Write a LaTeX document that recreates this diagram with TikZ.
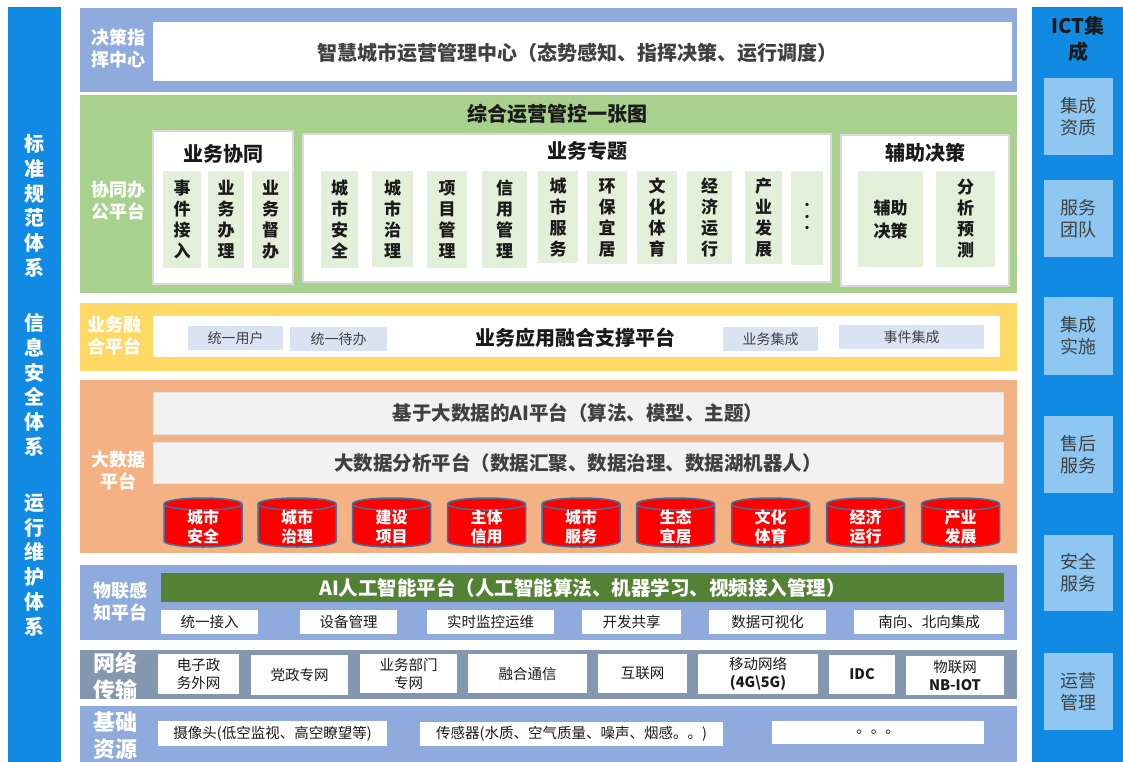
\documentclass[tikz,border=0pt]{standalone}
\usepackage{fontspec}
\setmainfont{Noto Sans CJK SC}
\definecolor{cbar}{HTML}{118AE4}
\definecolor{clight}{HTML}{8EC8F2}
\definecolor{cblue}{HTML}{8FAADC}
\definecolor{cgreen}{HTML}{A9D18E}
\definecolor{csub}{HTML}{E2F0D9}
\definecolor{cyellow}{HTML}{FFD966}
\definecolor{cchip}{HTML}{DAE3F3}
\definecolor{corange}{HTML}{F4B183}
\definecolor{cgraybar}{HTML}{F2F2F2}
\definecolor{cgrayline}{HTML}{E4E4E4}
\definecolor{cgroupline}{HTML}{D9D9D9}
\definecolor{cred}{HTML}{FF0000}
\definecolor{ccylline}{HTML}{41719C}
\definecolor{cdkgreen}{HTML}{548235}
\definecolor{cslate}{HTML}{8497B0}
\definecolor{ctxt}{HTML}{404040}
\definecolor{cblack}{HTML}{1A1A1A}
\newcommand\mybox[7]{\node[#2, anchor=north west, minimum width={(#5-#3)*1pt}, minimum height={(#6-#4)*1pt}] (#1) at (#3,#4) {#7};}
\begin{document}
\begin{tikzpicture}[x=1pt,y=-1pt,
  every node/.style={inner sep=0pt, outer sep=0pt},
  sidebar/.style={fill=cbar},
  sidebox/.style={fill=clight, align=center, text=ctxt, font=\fontsize{18}{22}\selectfont},
  sidetext/.style={align=center, text=white, font=\bfseries\fontsize{20}{24.7}\selectfont},
  layerbg/.style={fill=#1},
  lbl/.style={align=center, text=white, font=\bfseries\fontsize{18}{22}\selectfont},
  biglbl/.style={align=center, text=white, font=\bfseries\fontsize{22}{27}\selectfont},
  whitebox/.style={fill=white},
  groupbox/.style={fill=white, draw=cgroupline, line width=1.5pt},
  subbox/.style={fill=csub, align=center, text=cblack, font=\bfseries\fontsize{17}{21}\selectfont},
  ttl/.style={align=center, text=#1, font=\bfseries\fontsize{20}{24}\selectfont},
  chip/.style={fill=cchip, align=center, text=ctxt, font=\fontsize{14}{17}\selectfont},
  bandbox/.style={fill=cgraybar, draw=cgrayline, line width=0.8pt, align=center, text=ctxt, font=\bfseries\fontsize{19.5}{24}\selectfont},
  cyl/.style={fill=cred, draw=ccylline, line width=1.5pt},
  cyltext/.style={align=center, text=white, font=\bfseries\fontsize{16}{19}\selectfont},
  smallbox/.style={fill=white, align=center, text=cblack, font=\fontsize{14.5}{18}\selectfont}
]
\useasboundingbox[fill=white] (0,0) rectangle (1123,762);

% ---------- side bars ----------
\mybox{lbar}{sidebar}{8}{7}{61}{762}{}
\node[sidetext] (std) at (34,206) {标\\准\\规\\范\\体\\系};
\node[sidetext] (sec) at (34,385) {信\\息\\安\\全\\体\\系};
\node[sidetext] (ops) at (34,565) {运\\行\\维\\护\\体\\系};

\mybox{rbar}{sidebar}{1032}{7}{1123}{762}{}
\node[align=center, text=cblack, font=\bfseries\fontsize{20}{26}\selectfont] (ict) at (1078,39) {ICT集\\成};
\mybox{r1}{sidebox}{1044}{78}{1113}{155}{集成\\资质}
\mybox{r2}{sidebox}{1044}{180}{1113}{257}{服务\\团队}
\mybox{r3}{sidebox}{1044}{297}{1113}{375}{集成\\实施}
\mybox{r4}{sidebox}{1044}{416}{1113}{493}{售后\\服务}
\mybox{r5}{sidebox}{1044}{535}{1113}{611}{安全\\服务}
\mybox{r6}{sidebox}{1044}{653}{1113}{730}{运营\\管理}

% ---------- layer 1 ----------
\mybox{L1}{layerbg=cblue}{80}{8}{1017}{92}{}
\mybox{L1w}{whitebox}{153}{22}{1012}{81}{}
\node[lbl] (L1lbl) at (118,49) {决策指\\挥中心};
\node[ttl=ctxt] (L1t) at (577,53) {智慧城市运营管理中心（态势感知、指挥决策、运行调度）};

% ---------- layer 2 ----------
\mybox{L2}{layerbg=cgreen}{80}{95}{1017}{293}{}
\node[lbl] (L2lbl) at (118,201) {协同办\\公平台};
\node[ttl=cblack] (L2t) at (557,114) {综合运营管控一张图};

\mybox{gA}{groupbox}{153}{131}{293}{284}{}
\node[ttl=cblack] (gAt) at (223,154) {业务协同};
\mybox{a1}{subbox}{163}{171}{201}{268}{事\\件\\接\\入}
\mybox{a2}{subbox}{208}{171}{244}{268}{业\\务\\办\\理}
\mybox{a3}{subbox}{252}{171}{289}{268}{业\\务\\督\\办}

\mybox{gB}{groupbox}{303}{134}{831}{282}{}
\node[ttl=cblack] (gBt) at (587,151) {业务专题};
\mybox{b1}{subbox}{321}{171}{358}{268}{城\\市\\安\\全}
\mybox{b2}{subbox}{372}{171}{413}{267}{城\\市\\治\\理}
\mybox{b3}{subbox}{427}{171}{467}{268}{项\\目\\管\\理}
\mybox{b4}{subbox}{482}{171}{527}{268}{信\\用\\管\\理}
\mybox{b5}{subbox}{538}{171}{578}{263}{城\\市\\服\\务}
\mybox{b6}{subbox}{587}{171}{627}{264}{环\\保\\宜\\居}
\mybox{b7}{subbox}{637}{171}{677}{264}{文\\化\\体\\育}
\mybox{b8}{subbox}{687}{171}{732}{264}{经\\济\\运\\行}
\mybox{b9}{subbox}{745}{171}{782}{264}{产\\业\\发\\展}
\mybox{b10}{subbox, font=\bfseries\fontsize{12}{11.5}\selectfont}{791}{171}{823}{265}{·\\·\\·}

\mybox{gC}{groupbox}{841}{135}{1009}{286}{}
\node[ttl=cblack] (gCt) at (925,153) {辅助决策};
\mybox{c1}{subbox, font=\bfseries\fontsize{17}{23}\selectfont}{858}{171}{923}{267}{辅助\\决策}
\mybox{c2}{subbox}{936}{171}{995}{267}{分\\析\\预\\测}

% ---------- layer 3 ----------
\mybox{L3}{layerbg=cyellow}{80}{303}{1017}{371}{}
\mybox{L3w}{whitebox}{153}{316}{1000}{357}{}
\node[lbl] (L3lbl) at (114,336) {业务融\\合平台};
\mybox{y1}{chip}{188}{326}{283}{350}{统一用户}
\mybox{y2}{chip}{290}{327}{387}{351}{统一待办}
\node[ttl=cblack] (L3t) at (575,338) {业务应用融合支撑平台};
\mybox{y3}{chip}{723}{327}{818}{351}{业务集成}
\mybox{y4}{chip}{839}{325}{984}{349}{事件集成}

% ---------- layer 4 ----------
\mybox{L4}{layerbg=corange}{80}{380}{1017}{553}{}
\node[lbl] (L4lbl) at (118,471) {大数据\\平台};
\mybox{o1}{bandbox}{153}{392}{1003}{434}{基于大数据的AI平台（算法、模型、主题）}
\mybox{o2}{bandbox}{153}{442}{1003}{483}{大数据分析平台（数据汇聚、数据治理、数据湖机器人）}
\foreach \cx/\t [count=\i] in {203/{城市\\安全}, 297/{城市\\治理}, 391.5/{建设\\项目}, 486.5/{主体\\信用}, 581/{城市\\服务}, 675.5/{生态\\宜居}, 770.5/{文化\\体育}, 865.5/{经济\\运行}, 960.5/{产业\\发展}}{
  \draw[cyl] (\cx-39,504) -- (\cx-39,541) arc[start angle=180, end angle=360, x radius=39pt, y radius=6pt] -- (\cx+39,504) arc[start angle=0, end angle=180, x radius=39pt, y radius=6pt] -- cycle;
  \draw[draw=ccylline, line width=1.5pt] (\cx-39,504) arc[start angle=180, end angle=360, x radius=39pt, y radius=6pt];
  \node[cyltext] (db\i) at (\cx,527) {\t};
}

% ---------- layer 5 ----------
\mybox{L5}{layerbg=cblue}{80}{565}{1017}{640}{}
\node[lbl] (L5lbl) at (120,602) {物联感\\知平台};
\mybox{aiband}{layerbg=cdkgreen, text=white, font=\bfseries\fontsize{19.5}{24}\selectfont}{161}{573}{1004}{602}{AI人工智能平台（人工智能算法、机器学习、视频接入管理）}
\mybox{p1}{smallbox}{161}{610}{258}{634}{统一接入}
\mybox{p2}{smallbox}{300}{610}{397}{634}{设备管理}
\mybox{p3}{smallbox}{427}{610}{554}{634}{实时监控运维}
\mybox{p4}{smallbox}{582}{610}{681}{634}{开发共享}
\mybox{p5}{smallbox}{709}{610}{826}{634}{数据可视化}
\mybox{p6}{smallbox}{854}{610}{1004}{634}{南向、北向集成}

% ---------- layer 6 ----------
\mybox{L6}{layerbg=cslate}{80}{650}{1017}{699}{}
\begin{scope}
  \clip (80,650) rectangle (1017,699);
  \node[biglbl] (L6lbl) at (115,677) {网络\\传输};
\end{scope}
\mybox{n1}{smallbox}{158}{654}{239}{694}{电子政\\务外网}
\mybox{n2}{smallbox}{251}{655}{348}{695}{党政专网}
\mybox{n3}{smallbox}{360}{654}{457}{693}{业务部门\\专网}
\mybox{n4}{smallbox}{468}{654}{587}{693}{融合通信}
\mybox{n5}{smallbox}{598}{654}{687}{693}{互联网}
\mybox{n6}{smallbox}{698}{654}{818}{694}{移动网络\\{\bfseries(4G\textbackslash 5G)}}
\mybox{n7}{smallbox}{829}{655}{895}{694}{{\bfseries IDC}}
\mybox{n8}{smallbox}{906}{656}{1004}{695}{物联网\\{\bfseries NB-IOT}}

% ---------- layer 7 ----------
\mybox{L7}{layerbg=cblue}{80}{706}{1017}{762}{}
\node[biglbl] (L7lbl) at (115,736) {基础\\资源};
\mybox{s1}{smallbox}{158}{721}{387}{746}{摄像头(低空监视、高空瞭望等)}
\mybox{s2}{smallbox}{420}{722}{723}{746}{传感器(水质、空气质量、噪声、烟感。。)}
\mybox{s3}{smallbox}{772}{721}{984}{744}{。。。}
\end{tikzpicture}
\end{document}
